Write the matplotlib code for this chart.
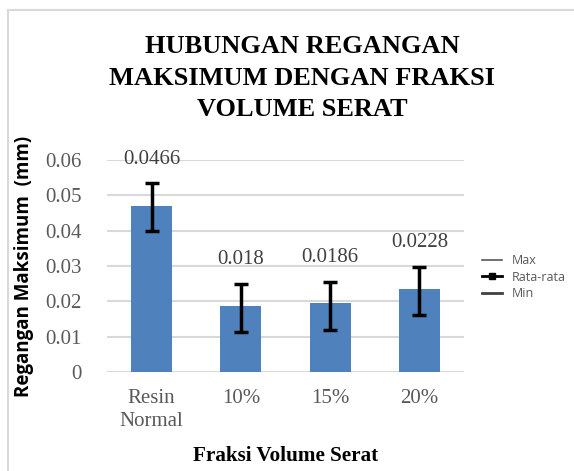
import matplotlib.pyplot as plt
from matplotlib.lines import Line2D
from matplotlib.patches import Rectangle

# data
categories = ['Resin\nNormal', '10%', '15%', '20%']
bar_values = [0.0470, 0.0188, 0.0194, 0.0235]
avg_values = [0.0466, 0.0180, 0.0186, 0.0228]
max_values = [0.0534, 0.0249, 0.0256, 0.0297]
min_values = [0.0399, 0.0113, 0.0118, 0.0161]
avg_labels = ['0.0466', '0.018', '0.0186', '0.0228']
y_ticks = [0, 0.01, 0.02, 0.03, 0.04, 0.05, 0.06]
y_tick_labels = ['0', '0.01', '0.02', '0.03', '0.04', '0.05', '0.06']

SERIF = 'Liberation Serif'
SANS = 'Open Sans'
GREY = '#595959'

fig = plt.figure(figsize=(5.74, 4.71), dpi=100)
ax = fig.add_axes([107 / 574, 1 - 372 / 471, 357 / 574, 212 / 471])

# outer chart frame
fig.patches.append(Rectangle((8 / 574, -0.1), 1.2, 1.1 - 10 / 471, transform=fig.transFigure,
                             fill=False, edgecolor='#d9d9d9', linewidth=1.5))

x = list(range(len(categories)))
ax.bar(x, bar_values, width=0.46, color='#4f81bd', zorder=2)

lower = [a - mn for a, mn in zip(avg_values, min_values)]
upper = [mx - a for a, mx in zip(avg_values, max_values)]
ax.errorbar(x, avg_values, yerr=[lower, upper], fmt='none', ecolor='black',
            elinewidth=2.5, capsize=5, capthick=2.5, zorder=3)

for xi, mx, lab in zip(x, max_values, avg_labels):
    ax.annotate(lab, (xi, mx), xytext=(0, 17.5), textcoords='offset points', ha='center', va='center',
                fontsize=15, family=SERIF, color='#404040')

ax.set_xlim(-0.5, len(categories) - 0.5)
ax.set_ylim(0, 0.06)
ax.set_yticks(y_ticks)
ax.set_yticklabels(y_tick_labels, family=SERIF, fontsize=15, color=GREY)
ax.set_xticks(x)
ax.set_xticklabels(categories, family=SERIF, fontsize=15, color=GREY, linespacing=1.32)
ax.tick_params(axis='both', length=0)
ax.tick_params(axis='y', pad=18)
ax.tick_params(axis='x', pad=12)
ax.set_axisbelow(True)
ax.grid(axis='y', color='#d9d9d9', linewidth=1.5)
for s in ax.spines.values():
    s.set_visible(False)

ax.set_ylabel('Regangan Maksimum  (mm)', family=SANS, fontweight='bold', fontsize=13.5, labelpad=8.5)
ax.set_xlabel('Fraksi Volume Serat', family=SERIF, fontweight='bold', fontsize=15.2, labelpad=11)

fig.text(0.526, 1 - 35 / 471, 'HUBUNGAN REGANGAN\nMAKSIMUM DENGAN FRAKSI\nVOLUME SERAT',
         ha='center', va='top', family=SERIF, fontweight='bold', fontsize=19, linespacing=1.48)

handles = [
    Line2D([], [], color='#595959', linewidth=1.2),
    Line2D([], [], color='black', linewidth=2, marker='s', markersize=4.5),
    Line2D([], [], color='#404040', linewidth=2),
]
leg = ax.legend(handles, ['Max', 'Rata-rata', 'Min'], loc='center left', bbox_to_anchor=(1.018, 0.448),
                frameon=False, handlelength=1.6, labelspacing=0.28, handletextpad=0.8,
                prop={'family': SANS, 'size': 9})
for t in leg.get_texts():
    t.set_color(GREY)

fig.savefig('out.png', dpi=100)
